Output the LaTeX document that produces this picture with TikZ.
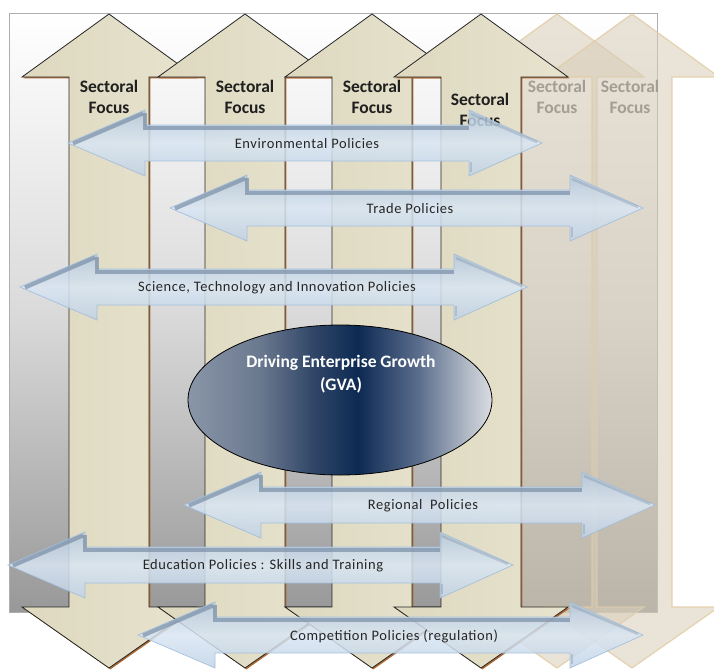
\documentclass[tikz,border=0pt]{standalone}
\usepackage{fontspec}
\setmainfont{Carlito}
\definecolor{beigeA}{HTML}{DED8BF}
\definecolor{beigeB}{HTML}{E7E3CE}
\definecolor{shadowc}{HTML}{B06A35}
\definecolor{fadedc}{HTML}{D9CDB8}
\definecolor{fadedline}{HTML}{E2CCA4}
\definecolor{fadedtext}{HTML}{A49D93}
\definecolor{framemid}{HTML}{DADADA}
\definecolor{framebot}{HTML}{989898}
\definecolor{framec}{HTML}{AEAEAE}
\definecolor{blueTop}{HTML}{B5C8DD}
\definecolor{blueMid}{HTML}{D9E6F3}
\definecolor{blueBot}{HTML}{C0D2E6}
\definecolor{blueLine}{HTML}{9FBCDB}
\definecolor{slate}{HTML}{7A8FA7}
\definecolor{gvaA}{HTML}{8A96A8}
\definecolor{gvaB}{HTML}{6A788F}
\definecolor{gvaC}{HTML}{2E4466}
\definecolor{gvaD}{HTML}{0D2A53}
\definecolor{gvaE}{HTML}{5C6E8D}
\definecolor{gvaF}{HTML}{B3BBC7}
\definecolor{gvaG}{HTML}{DADDE2}
\pgfdeclarehorizontalshading{gvashade}{100bp}{color(0bp)=(gvaA); color(25bp)=(gvaA); color(37bp)=(gvaB); color(46bp)=(gvaC); color(53bp)=(gvaD); color(63bp)=(gvaE); color(71bp)=(gvaF); color(75bp)=(gvaG); color(100bp)=(gvaG)}
\tikzset{
  vbody/.style={left color=beigeA, right color=beigeB, draw=black!85, line width=0.8pt, line join=miter},
  vshadowfill/.style={fill=shadowc},
  fadedarrow/.style={fill=fadedc, fill opacity=0.55, draw=fadedline, draw opacity=0.85, line width=1.2pt},
  focustext/.style={align=center, font=\bfseries\fontsize{17.5}{21}\selectfont, text=black!88, inner sep=0pt},
  fadedfocus/.style={focustext, text=fadedtext},
  harrowfill/.style={top color=blueTop, bottom color=blueBot, middle color=blueMid, fill opacity=0.85, draw=blueLine, draw opacity=0.9, line width=0.7pt, line join=miter},
  bevel/.style={draw=slate, line width=4pt, opacity=0.7},
  bevellight/.style={draw=slate, line width=2.5pt, opacity=0.35},
  poltext/.style={font=\fontsize{14.5}{17}\selectfont\addfontfeatures{LetterSpace=4}, text=black!85, inner sep=0pt},
  gvatext/.style={align=center, font=\bfseries\fontsize{17.5}{23}\selectfont, text=white, inner sep=0pt}
}
\newcommand\vpath[1]{({#1},14) -- ({#1+87},77) -- ({#1+40},77) -- ({#1+40},607) -- ({#1+87},607) -- ({#1},668) -- ({#1-87},607) -- ({#1-40},607) -- ({#1-40},77) -- ({#1-87},77) -- cycle}
\newcommand\harrow[6]{%
  \path[harrowfill] (#2,#4) -- ({#2+77},{#4-33}) -- ({#2+77},{#4-18}) -- ({#3-73},{#4-18}) -- ({#3-73},{#4-33}) -- (#3,#4) -- ({#3-73},{#4+33}) -- ({#3-73},{#4+18}) -- ({#2+77},{#4+18}) -- ({#2+77},{#4+33}) -- cycle;
  \draw[bevel] ({#2+5},{#4+0.5}) -- ({#2+75},{#4-29.5});
  \draw[bevel] ({#2+77},{#4-30}) -- ({#2+77},{#4-15.5}) -- ({#3-73},{#4-15.5});
  \draw[bevellight] ({#3-71},{#4-29}) -- ({#3-5},{#4-1});
  \draw[bevellight] ({#3-71},{#4+19}) -- ({#3-71},{#4+29});
  \node[poltext] (#1) at (#5,{#4+1}) {#6};
}
\begin{document}
\begin{tikzpicture}[x=1pt,y=-1pt]
\useasboundingbox (0,0) rectangle (714,669);
\clip (0,0) rectangle (714,669);
% background frame
\shade[top color=white, bottom color=framebot, middle color=framemid] (9,13) rectangle (657,612);
\draw[framec, line width=0.8pt] (9,13) rectangle (657,612);
% faded sectoral arrows
\path[fadedarrow] \vpath{557};
\path[fadedarrow] \vpath{632};
\node[fadedfocus] (f5) at (557,97) {Sectoral\\Focus};
\node[fadedfocus] (f6) at (630,97) {Sectoral\\Focus};
% main sectoral arrows
\foreach \cx in {109,245,372,481}{
  \path[vshadowfill, shift={(1.4,1.4)}] \vpath{\cx};
  \path[vbody] \vpath{\cx};
}
\node[focustext] (f1) at (109,97) {Sectoral\\Focus};
\node[focustext] (f2) at (245,97) {Sectoral\\Focus};
\node[focustext] (f3) at (372,97) {Sectoral\\Focus};
\node[focustext] (f4) at (480,110) {Sectoral\\Focus};
% central ellipse
\path[shading=gvashade, draw=black, line width=0.8pt] (340,400) ellipse [x radius=152, y radius=75];
\node[gvatext] (gva) at (341,374) {Driving Enterprise Growth\\(GVA)};
% policy arrows
\harrow{env}{68}{542}{143}{307}{Environmental Policies}
\harrow{trade}{170}{643}{208}{410}{Trade Policies}
\harrow{sti}{20}{527}{287}{277}{Science, Technology and Innovation Policies}
\harrow{reg}{184}{655}{505}{423}{Regional\ \ Policies}
\harrow{edu}{8}{513}{565}{263}{Education Policies : Skills and Training}
\harrow{comp}{138}{643}{635}{394}{Competition Policies (regulation)}
\end{tikzpicture}
\end{document}
